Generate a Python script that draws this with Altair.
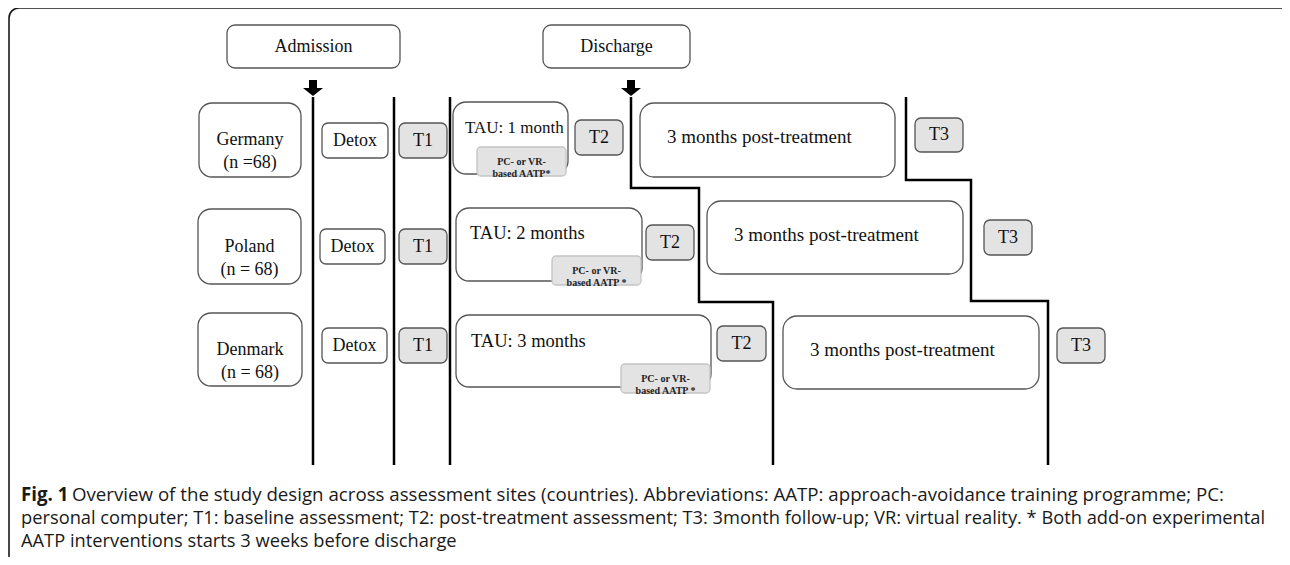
import altair as alt
import pandas as pd

# ---------------- data ----------------
HEAD_LABELS = ["Admission", "Discharge"]
HEAD_X0 = [227, 543]
HEAD_X1 = [400, 690]
HEAD_Y0 = [25, 25]
HEAD_Y1 = [68, 68]

ARROW_X = [313, 631]
ARROW_Y = [88, 88]

COUNTRY_LABELS = ["Germany\n(n =68)", "Poland\n(n = 68)", "Denmark\n(n = 68)"]
COUNTRY_X0 = [199, 198, 198]
COUNTRY_X1 = [301, 301, 302]
COUNTRY_Y0 = [103, 209, 313]
COUNTRY_Y1 = [177, 284, 386]

DETOX_X0 = [322, 320, 322]
DETOX_X1 = [388, 385, 387]
DETOX_Y0 = [123, 229, 328]
DETOX_Y1 = [158, 264, 363]

T1_X0 = [399, 399, 399]
T1_X1 = [447, 447, 447]
T1_Y0 = [123, 229, 328]
T1_Y1 = [158, 264, 363]

TAU_LABELS = ["TAU: 1 month", "TAU: 2 months", "TAU: 3 months"]
TAU_X0 = [453, 456, 456]
TAU_X1 = [568, 642, 711]
TAU_Y0 = [102, 208, 315]
TAU_Y1 = [174, 281, 387]
TAU_TX = [465, 470, 471]
TAU_TY = [128, 233, 341]
TAU_FS = [17, 18.5, 18.5]

BADGE_LABELS = ["PC- or VR-\nbased AATP*", "PC- or VR-\nbased AATP *", "PC- or VR-\nbased AATP *"]
BADGE_X0 = [477, 552, 621]
BADGE_X1 = [566, 641, 710]
BADGE_Y0 = [147, 256, 364]
BADGE_Y1 = [176, 285, 393]

T2_X0 = [575, 646, 717]
T2_X1 = [623, 694, 766]
T2_Y0 = [120, 225, 326]
T2_Y1 = [155, 260, 361]

POST_LABEL = "3 months post-treatment"
POST_X0 = [640, 707, 783]
POST_X1 = [895, 963, 1039]
POST_Y0 = [103, 201, 316]
POST_Y1 = [177, 274, 389]

T3_X0 = [915, 984, 1057]
T3_X1 = [963, 1032, 1105]
T3_Y0 = [118, 220, 328]
T3_Y1 = [152, 255, 363]

VLINE_X = [313, 394, 450]
VLINE_TOP = 97
VLINE_BOTTOM = 465

STAIR1_X = [631, 631, 699, 699, 773, 773]
STAIR1_Y = [97, 188, 188, 302, 302, 465]
STAIR2_X = [906, 906, 971, 971, 1048, 1048]
STAIR2_Y = [97, 180, 180, 301, 301, 465]

CAPTION_BOLD = "Fig. 1"
CAPTION_LINES = [
    "Overview of the study design across assessment sites (countries). Abbreviations: AATP: approach-avoidance training programme; PC:",
    "personal computer; T1: baseline assessment; T2: post-treatment assessment; T3: 3month follow-up; VR: virtual reality. * Both add-on experimental",
    "AATP interventions starts 3 weeks before discharge",
]
CAPTION_X = [72, 21, 21]
CAPTION_Y = [501, 524, 547]
CAPTION_FS = [18.7, 18.3, 18.3]

FRAME = dict(x=9, x2=1294, y=8, y2=568)

# ---------------- helpers ----------------
W, H = 1274, 549
xs = alt.Scale(domain=[8, 8 + W], nice=False, zero=False)
ys = alt.Scale(domain=[8, 8 + H], nice=False, zero=False, reverse=True)


def boxes(x0, x1, y0, y1, labels=None):
    df = pd.DataFrame({"x": x0, "x2": x1, "y": y0, "y2": y1})
    df["cx"] = (df["x"] + df["x2"]) / 2
    df["cy"] = (df["y"] + df["y2"]) / 2
    if labels is not None:
        df["label"] = labels
    return df


def rect_layer(df, radius, fill, stroke, sw=1.3):
    return alt.Chart(df).mark_rect(
        cornerRadius=radius, fill=fill, stroke=stroke, strokeWidth=sw
    ).encode(
        x=alt.X("x:Q", scale=xs, axis=None),
        x2="x2:Q",
        y=alt.Y("y:Q", scale=ys, axis=None),
        y2="y2:Q",
    )


def text_layer(df, xfield, yfield, size, font="Liberation Serif", weight="normal",
               align="center", color="#111", lh=None, size_field=None):
    kw = dict(font=font, fontSize=size, fontWeight=weight, align=align,
              baseline="middle", color=color, lineBreak="\n")
    if lh is not None:
        kw["lineHeight"] = lh
    enc = dict(
        x=alt.X(f"{xfield}:Q", scale=xs, axis=None),
        y=alt.Y(f"{yfield}:Q", scale=ys, axis=None),
        text="label:N",
    )
    if size_field is not None:
        enc["size"] = alt.Size(f"{size_field}:Q", scale=None, legend=None)
    return alt.Chart(df).mark_text(**kw).encode(**enc)


head = boxes(HEAD_X0, HEAD_X1, HEAD_Y0, HEAD_Y1, HEAD_LABELS)
country = boxes(COUNTRY_X0, COUNTRY_X1, COUNTRY_Y0, COUNTRY_Y1, COUNTRY_LABELS)
detox = boxes(DETOX_X0, DETOX_X1, DETOX_Y0, DETOX_Y1, ["Detox"] * 3)
t1 = boxes(T1_X0, T1_X1, T1_Y0, T1_Y1, ["T1"] * 3)
tau = boxes(TAU_X0, TAU_X1, TAU_Y0, TAU_Y1, TAU_LABELS)
tau["tx"] = TAU_TX
tau["ty"] = TAU_TY
tau["fs"] = TAU_FS
badge = boxes(BADGE_X0, BADGE_X1, BADGE_Y0, BADGE_Y1, BADGE_LABELS)
t2 = boxes(T2_X0, T2_X1, T2_Y0, T2_Y1, ["T2"] * 3)
post = boxes(POST_X0, POST_X1, POST_Y0, POST_Y1, [POST_LABEL] * 3)
post["tx"] = post["x"] + 27
post["ty"] = post["y"] + 34
t3 = boxes(T3_X0, T3_X1, T3_Y0, T3_Y1, ["T3"] * 3)
tboxes = pd.concat([t1, t2, t3], ignore_index=True)

frame = pd.DataFrame([FRAME])
frame_layer = alt.Chart(frame).mark_rect(
    cornerRadius=10, fillOpacity=0, stroke="#1a1a1a", strokeWidth=1.6
).encode(
    x=alt.X("x:Q", scale=xs, axis=None), x2="x2:Q",
    y=alt.Y("y:Q", scale=ys, axis=None), y2="y2:Q",
)

vlines = pd.DataFrame({"x": VLINE_X, "y": [VLINE_TOP] * 3, "y2": [VLINE_BOTTOM] * 3})
vline_layer = alt.Chart(vlines).mark_rule(color="#000", strokeWidth=2.5).encode(
    x=alt.X("x:Q", scale=xs, axis=None),
    y=alt.Y("y:Q", scale=ys, axis=None), y2="y2:Q",
)

stairs = pd.DataFrame({
    "x": STAIR1_X + STAIR2_X,
    "y": STAIR1_Y + STAIR2_Y,
    "path": ["a"] * 6 + ["b"] * 6,
    "order": list(range(6)) * 2,
})
stair_layer = alt.Chart(stairs).mark_line(
    color="#000", strokeWidth=2.5, strokeJoin="miter", strokeCap="butt"
).encode(
    x=alt.X("x:Q", scale=xs, axis=None),
    y=alt.Y("y:Q", scale=ys, axis=None),
    detail="path:N",
    order="order:Q",
)

arrows = pd.DataFrame({"x": ARROW_X, "y": ARROW_Y})
arrow_layer = alt.Chart(arrows).mark_point(
    shape="M-0.4,-0.8L0.4,-0.8L0.4,0L1,0L0,0.8L-1,0L-0.4,0Z",
    size=400, filled=True, fill="#000", opacity=1, strokeWidth=0,
).encode(
    x=alt.X("x:Q", scale=xs, axis=None),
    y=alt.Y("y:Q", scale=ys, axis=None),
)

cap_bold = pd.DataFrame({"x": [21], "y": [CAPTION_Y[0]], "label": [CAPTION_BOLD], "fs": [CAPTION_FS[0]]})
cap = pd.DataFrame({"x": CAPTION_X, "y": CAPTION_Y, "label": CAPTION_LINES, "fs": CAPTION_FS})
capfont = "Open Sans"

layers = [
    frame_layer,
    vline_layer,
    stair_layer,
    arrow_layer,
    rect_layer(head, 8, "white", "#555"),
    rect_layer(country, 13, "white", "#555"),
    rect_layer(detox, 6, "white", "#555"),
    rect_layer(tboxes, 6, "#e3e3e3", "#555"),
    rect_layer(tau, 13, "white", "#555"),
    rect_layer(badge, 4, "#e3e3e3", "#c4c4c4"),
    rect_layer(post, 14, "white", "#555"),
    text_layer(head, "cx", "cy", 18),
    text_layer(country, "cx", "cy", 18, lh=23),
    text_layer(detox, "cx", "cy", 18),
    text_layer(tboxes, "cx", "cy", 18),
    text_layer(tau, "tx", "ty", 18, align="left", size_field="fs"),
    text_layer(badge, "cx", "cy", 10, weight="bold", lh=12, color="#222"),
    text_layer(post, "tx", "ty", 19, align="left"),
    alt.Chart(cap_bold).mark_text(
        font=capfont, fontWeight="bold", align="left",
        baseline="alphabetic", color="#1a1a1a",
    ).encode(x=alt.X("x:Q", scale=xs, axis=None), y=alt.Y("y:Q", scale=ys, axis=None),
             text="label:N", size=alt.Size("fs:Q", scale=None, legend=None)),
    alt.Chart(cap).mark_text(
        font=capfont, align="left", baseline="alphabetic", color="#1a1a1a",
    ).encode(x=alt.X("x:Q", scale=xs, axis=None), y=alt.Y("y:Q", scale=ys, axis=None),
             text="label:N", size=alt.Size("fs:Q", scale=None, legend=None)),
]

chart = alt.layer(*layers).properties(
    width=W, height=H, padding=0, autosize=alt.AutoSizeParams(type="none"),
    background="white",
).configure_view(stroke=None)

chart.save("out.html", embed_options={"renderer": "svg", "actions": False})
